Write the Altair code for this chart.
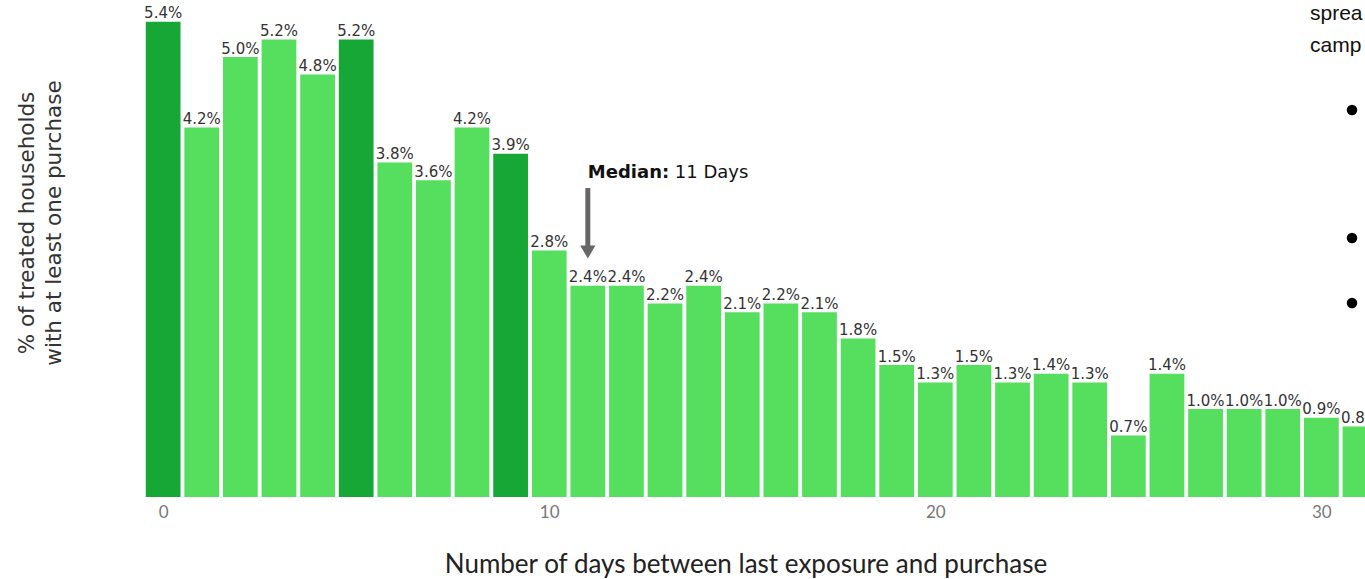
import altair as alt
import pandas as pd

# ---- data ----
days = list(range(32))
pct = [5.4, 4.2, 5.0, 5.2, 4.8, 5.2, 3.8, 3.6, 4.2, 3.9,
       2.8, 2.4, 2.4, 2.2, 2.4, 2.1, 2.2, 2.1, 1.8, 1.5,
       1.3, 1.5, 1.3, 1.4, 1.3, 0.7, 1.4, 1.0, 1.0, 1.0,
       0.9, 0.8]
highlight_days = [0, 5, 9]
x_ticks = [0, 10, 20, 30]
median_day = 11
y_title_lines = ["% of treated households", "with at least one purchase"]
x_title = "Number of days between last exposure and purchase"
side_words = ["sprea", "camp"]

DARK = "#17a737"
LIGHT = "#56de5f"

df = pd.DataFrame({
    "day": days,
    "pct": pct,
    "label": [f"{v:.1f}%" for v in pct],
    "hl": ["dark" if d in highlight_days else "light" for d in days],
})

W, H = 1220, 497
xscale = alt.Scale(domain=[-0.47, 31.13], nice=False, zero=False)
yscale = alt.Scale(domain=[0, 5.648], nice=False, zero=True)

base = alt.Chart(df)

bars = base.transform_calculate(
    x0="datum.day - 0.45", x1="datum.day + 0.45"
).mark_bar(clip=True).encode(
    x=alt.X("x0:Q", scale=xscale,
            axis=alt.Axis(values=x_ticks, title=None, grid=False, ticks=False,
                          domain=False, labelFont="Lato", labelFontSize=17,
                          labelColor="#777777", labelBaseline="alphabetic",
                          labelPadding=20, format="d")),
    x2="x1:Q",
    y=alt.Y("pct:Q", scale=yscale, axis=None),
    y2=alt.datum(0),
    color=alt.Color("hl:N", scale=alt.Scale(domain=["dark", "light"], range=[DARK, LIGHT]),
                    legend=None),
)

labels = base.mark_text(clip=True, dy=-3.5, baseline="alphabetic", align="center",
                        font="DejaVu Sans", fontSize=15, color="#333333").encode(
    x=alt.X("day:Q", scale=xscale),
    y=alt.Y("pct:Q", scale=yscale),
    text="label:N",
)

# median annotation
med_df = pd.DataFrame({"day": [median_day], "y_top": [3.511], "y_bot": [2.852],
                       "y_head": [2.784], "y_text": [3.625],
                       "bold": ["Median:"], "rest": [f"{median_day} Days"]})
med = alt.Chart(med_df)
shaft = med.mark_rule(color="#666666", strokeWidth=5).encode(
    x=alt.X("day:Q", scale=xscale), y=alt.Y("y_top:Q", scale=yscale), y2="y_bot:Q")
head = med.mark_point(shape="triangle-down", filled=True, color="#666666", size=230,
                      opacity=1).encode(
    x=alt.X("day:Q", scale=xscale), y=alt.Y("y_head:Q", scale=yscale))
med_bold = med.mark_text(align="left", baseline="alphabetic", font="DejaVu Sans",
                         fontSize=18, fontWeight="bold", color="#111111").encode(
    x=alt.X("day:Q", scale=xscale), y=alt.Y("y_text:Q", scale=yscale), text="bold:N")
med_rest = med.mark_text(align="left", baseline="alphabetic", font="DejaVu Sans",
                         fontSize=18, color="#111111", dx=87).encode(
    x=alt.X("day:Q", scale=xscale), y=alt.Y("y_text:Q", scale=yscale), text="rest:N")

# axis titles as text
ytitle_df = pd.DataFrame({"t": y_title_lines, "px": [-111, -84]})
ytitle = alt.Chart(ytitle_df).mark_text(angle=270, align="center", baseline="alphabetic",
                                        font="DejaVu Sans", fontSize=21.5,
                                        color="#333333").encode(
    x=alt.X("px:Q", scale=None), y=alt.value(223), text="t:N")

xtitle = alt.Chart(pd.DataFrame({"t": [x_title]})).mark_text(
    align="center", baseline="alphabetic", font="Lato", fontSize=26, color="#222222"
).encode(x=alt.value(601), y=alt.value(573), text="t:N")

# partial slide text at the right edge
side_df = pd.DataFrame({"t": side_words, "py": [20, 52]})
side = alt.Chart(side_df).mark_text(align="left", baseline="alphabetic",
                                    font="Liberation Sans", fontSize=21,
                                    color="#111111").encode(
    x=alt.value(1165), y=alt.Y("py:Q", scale=None), text="t:N")

bullet_df = pd.DataFrame({"py": [110, 238, 303]})
bullets = alt.Chart(bullet_df).mark_point(shape="circle", filled=True, color="#000000",
                                          size=110, opacity=1).encode(
    x=alt.value(1207), y=alt.Y("py:Q", scale=None))

chart = alt.layer(
    bars, labels, shaft, head, med_bold, med_rest, ytitle, xtitle, side, bullets
).properties(
    width=W, height=H,
    autosize=alt.AutoSizeParams(type="none"),
    padding={"left": 145, "top": 0, "right": 0, "bottom": 82},
    background="white",
).configure_view(stroke=None)

chart.save("out.html", embed_options={"renderer": "svg", "actions": False})
